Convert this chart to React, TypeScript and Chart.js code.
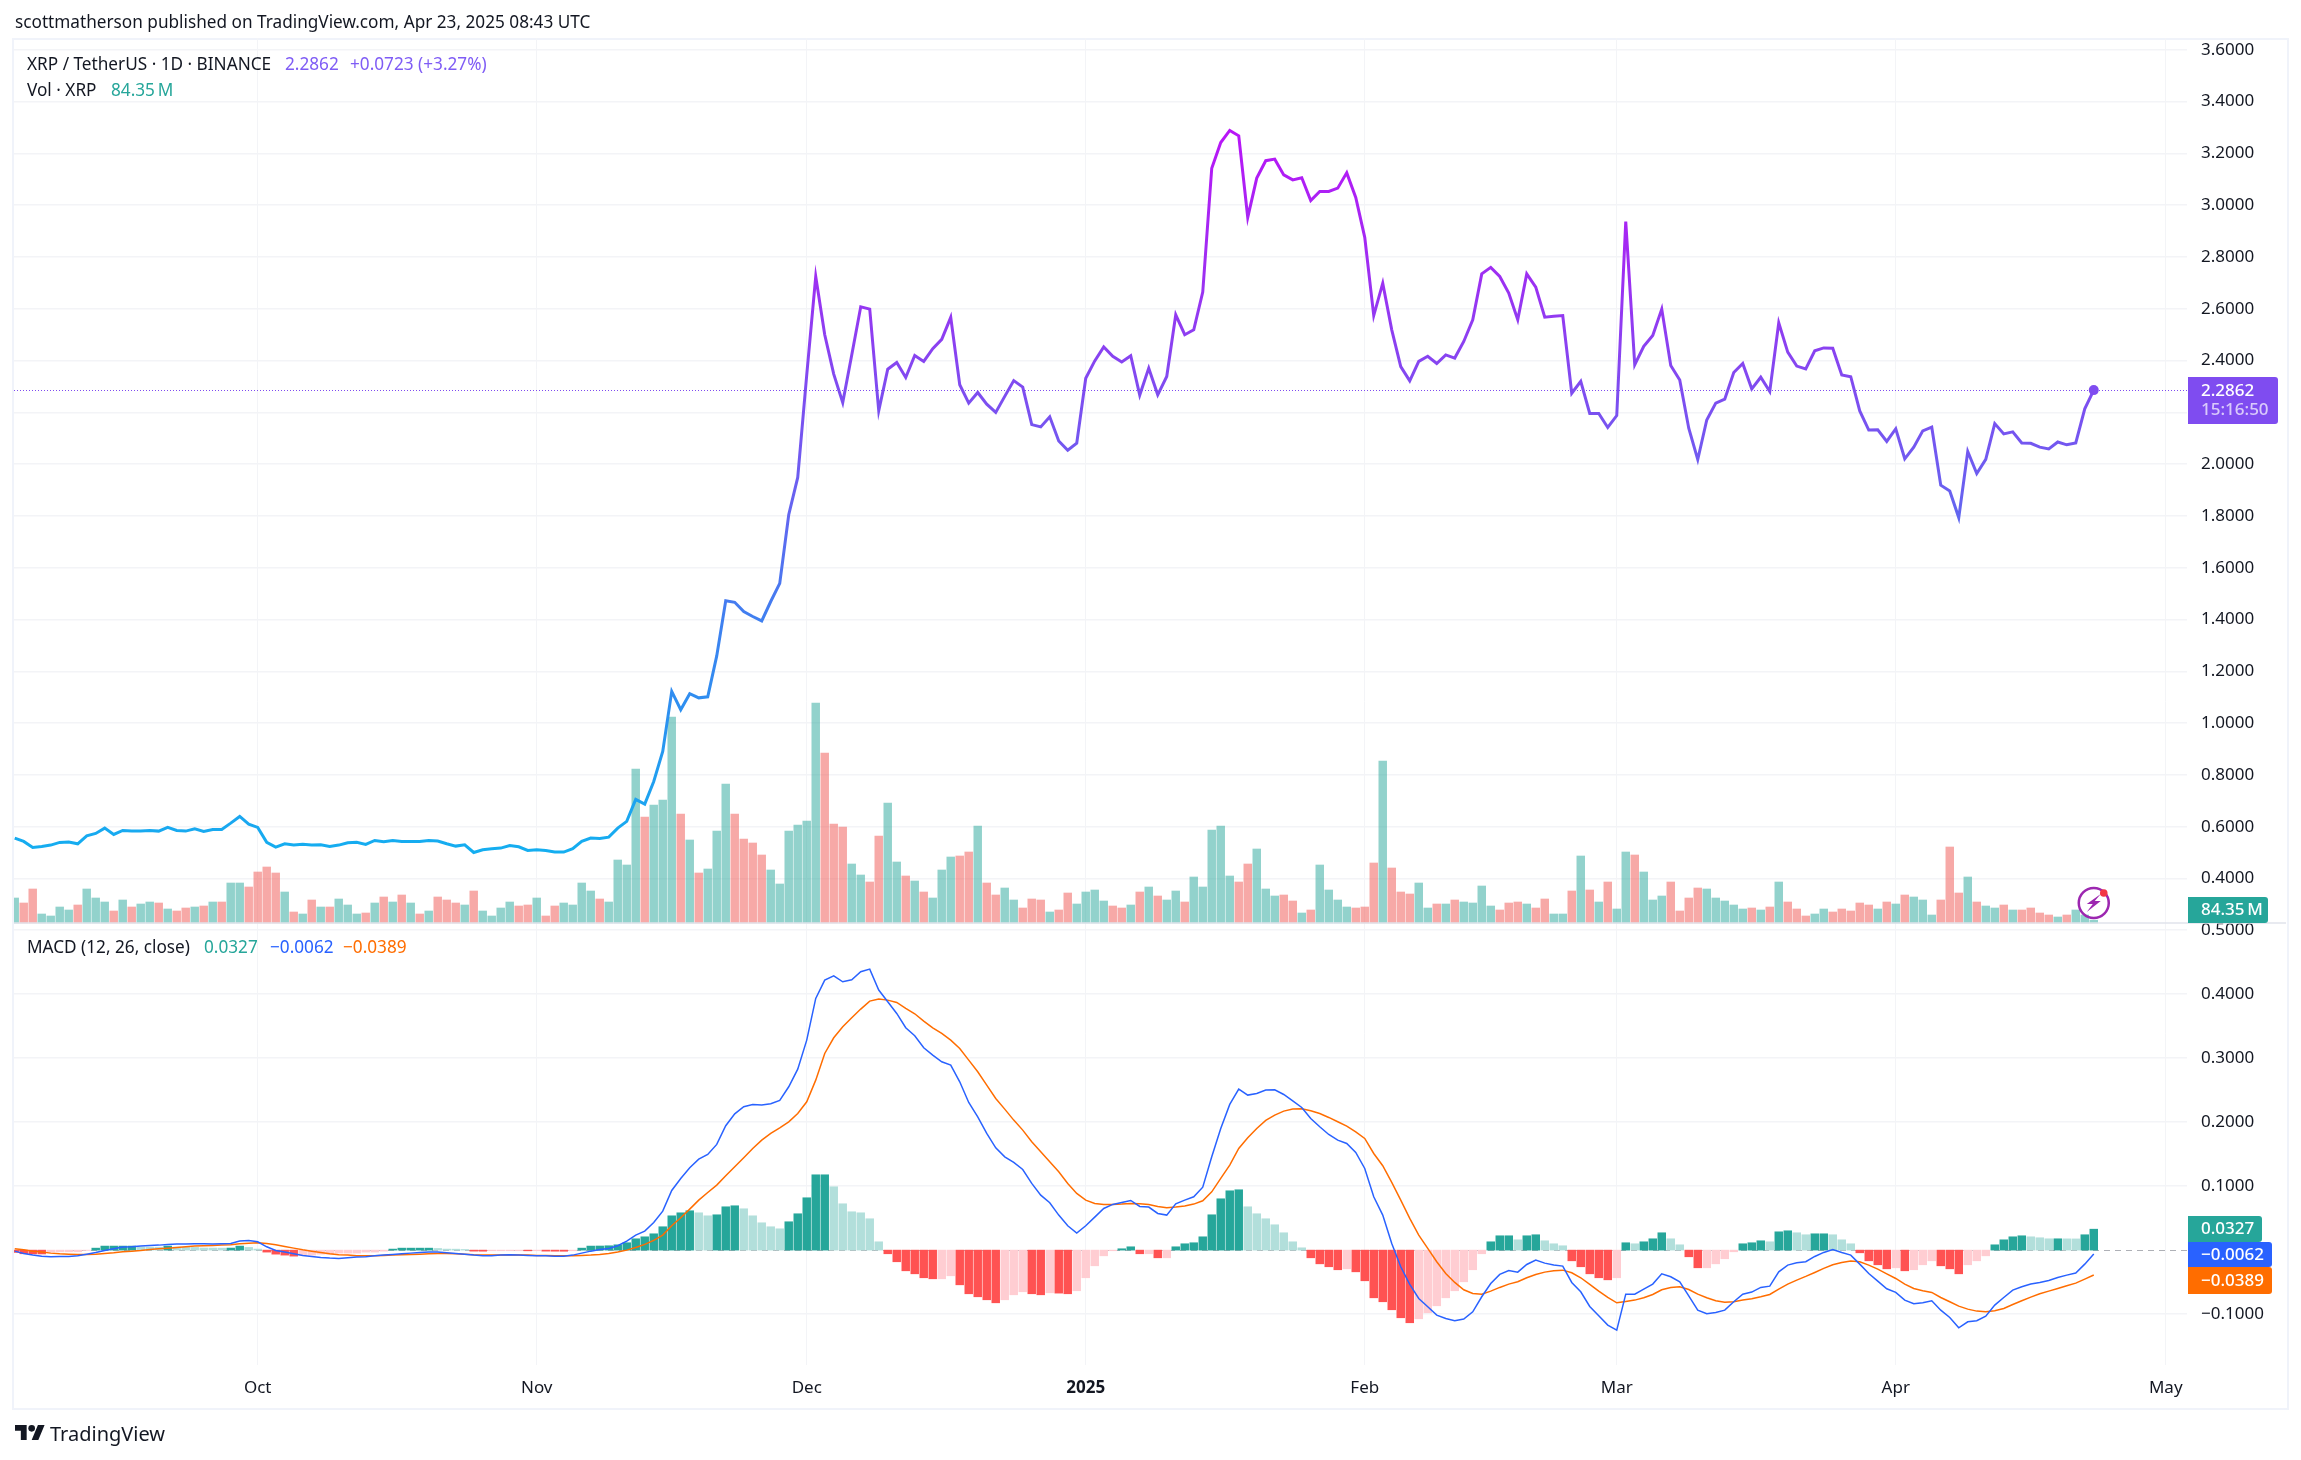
import React, { useEffect, useRef } from "react"
import { Chart, registerables } from "chart.js"

Chart.register(...registerables)

// one entry per day, Sep 4 2024 (index 0) to Apr 23 2025 (index 231)
const closes = [
  0.5565, 0.5436, 0.5205, 0.5243, 0.5295, 0.5398, 0.541, 0.5346, 0.5655, 0.5745,
  0.595, 0.5707, 0.586, 0.5835, 0.5835, 0.586, 0.5835, 0.5977, 0.586, 0.5835,
  0.5925, 0.582, 0.59, 0.59, 0.6144, 0.64, 0.6106, 0.5977, 0.54, 0.5218,
  0.5346, 0.5295, 0.533, 0.5295, 0.5308, 0.5243, 0.5295, 0.5385, 0.54, 0.532,
  0.5475, 0.5423, 0.5475, 0.5436, 0.5436, 0.5436, 0.5475, 0.545, 0.5346, 0.5256,
  0.5308, 0.501, 0.5115, 0.5153, 0.518, 0.528, 0.523, 0.5089, 0.5115, 0.5089,
  0.5025, 0.5025, 0.5153, 0.5436, 0.5565, 0.555, 0.5603, 0.595, 0.621, 0.706,
  0.688, 0.775, 0.891, 1.123, 1.052, 1.114, 1.098, 1.102, 1.26, 1.473,
  1.467, 1.431, 1.412, 1.395, 1.47, 1.54, 1.805, 1.949, 2.345, 2.725,
  2.5, 2.348, 2.238, 2.422, 2.608, 2.599, 2.206, 2.367, 2.393, 2.335,
  2.42, 2.397, 2.446, 2.482, 2.567, 2.307, 2.236, 2.277, 2.232, 2.2,
  2.262, 2.323, 2.298, 2.153, 2.144, 2.183, 2.09, 2.054, 2.081, 2.332,
  2.399, 2.453, 2.417, 2.395, 2.419, 2.267, 2.371, 2.268, 2.339, 2.577,
  2.5, 2.519, 2.665, 3.143, 3.242, 3.289, 3.268, 2.953, 3.105, 3.172,
  3.178, 3.117, 3.098, 3.106, 3.018, 3.053, 3.053, 3.066, 3.125, 3.03,
  2.876, 2.574, 2.699, 2.519, 2.377, 2.322, 2.397, 2.417, 2.389, 2.422,
  2.41, 2.474, 2.558, 2.735, 2.76, 2.725, 2.661, 2.558, 2.735, 2.684,
  2.568, 2.571, 2.574, 2.274, 2.32, 2.196, 2.196, 2.142, 2.188, 2.937,
  2.384, 2.455, 2.497, 2.599, 2.381, 2.325, 2.139, 2.018, 2.171, 2.236,
  2.251, 2.354, 2.389, 2.291, 2.336, 2.281, 2.546, 2.433, 2.379, 2.368,
  2.438, 2.449, 2.448, 2.345, 2.338, 2.206, 2.132, 2.133, 2.088, 2.137,
  2.021, 2.066, 2.129, 2.143, 1.919, 1.897, 1.794, 2.049, 1.964, 2.019,
  2.157, 2.117, 2.125, 2.082, 2.081, 2.066, 2.059, 2.086, 2.075, 2.082,
  2.214, 2.2862,
]

// millions of XRP
const volumes = [
  750, 600, 1020, 270, 210, 480, 390, 540, 1020, 750,
  630, 360, 690, 480, 570, 630, 600, 420, 360, 450,
  480, 510, 630, 630, 1200, 1200, 1080, 1530, 1680, 1500,
  930, 330, 270, 690, 480, 480, 720, 540, 270, 300,
  600, 780, 630, 840, 600, 270, 360, 780, 690, 600,
  540, 960, 360, 210, 450, 630, 510, 540, 750, 210,
  510, 600, 540, 1200, 960, 720, 630, 1890, 1740, 4620,
  3180, 3540, 3690, 6180, 3270, 2490, 1500, 1620, 2760, 4170,
  3270, 2520, 2400, 2040, 1590, 1170, 2760, 2940, 3060, 6600,
  5100, 2970, 2880, 1770, 1440, 1230, 2610, 3600, 1830, 1410,
  1260, 930, 750, 1590, 1980, 2010, 2130, 2910, 1200, 840,
  1050, 690, 450, 720, 690, 330, 390, 900, 570, 930,
  990, 660, 510, 450, 540, 930, 1080, 810, 690, 960,
  630, 1380, 1080, 2790, 2910, 1410, 1230, 1770, 2220, 1020,
  810, 840, 660, 300, 390, 1740, 990, 690, 480, 450,
  480, 1800, 4860, 1650, 930, 870, 1200, 450, 570, 570,
  690, 630, 600, 1110, 510, 390, 600, 630, 570, 450,
  720, 270, 270, 960, 2010, 990, 630, 1230, 420, 2130,
  2040, 1530, 690, 810, 1230, 360, 750, 1050, 1020, 750,
  660, 540, 420, 450, 390, 480, 1230, 630, 420, 210,
  270, 420, 330, 420, 360, 600, 540, 420, 630, 570,
  840, 780, 690, 240, 690, 2280, 900, 1380, 630, 510,
  450, 540, 390, 390, 450, 300, 240, 180, 240, 390,
  240, 84.35,
]

// G = up day, R = down day
const volumeSides = (
  "GRRGGGGRGG" + "GRGRGGRGRR" + "GRGRGGRRRR" + "GRGRGRGGGR" + "GRGRGRGRRR" +
  "GRGGGGRRGR" + "RGGGGRGGGG" + "RGGGRGRGGG" + "RRRRGGGGGG" + "RRRGGRRGGR" +
  "GRGGGRRGRR" + "GGRRRGRRGG" + "GGRRGRGRGG" + "RGGGGGRRGG" + "GRRGRGGGGR" +
  "RRGRRRGGRG" + "RGGGGRRRGR" + "RGGRGRGRGG" + "RGGGRRRRGG" + "GGGRGRGRRR" +
  "GGRRRRRGRG" + "RGGGRRRGRG" + "GRGRRRRGRG" + "GG"
).split("")

const macdLine = [
  -0.0016, -0.0052, -0.0078, -0.0094, -0.0104, -0.0099, -0.0099, -0.0089, -0.0063, -0.0036,
  -0.0005, 0.0021, 0.0047, 0.0052, 0.0063, 0.0073, 0.0078, 0.0089, 0.0094, 0.0094,
  0.0099, 0.0099, 0.0094, 0.0099, 0.0104, 0.0141, 0.0151, 0.013, 0.0052, -0.0005,
  -0.0031, -0.0057, -0.0083, -0.0099, -0.0115, -0.0125, -0.013, -0.012, -0.0109, -0.0104,
  -0.0089, -0.0078, -0.0068, -0.0057, -0.0047, -0.0036, -0.0031, -0.0031, -0.0042, -0.0052,
  -0.0063, -0.0078, -0.0089, -0.0089, -0.0078, -0.0073, -0.0078, -0.0083, -0.0089, -0.0089,
  -0.0094, -0.0094, -0.0078, -0.0047, -0.0016, 0.001, 0.0026, 0.0068, 0.0141, 0.0234,
  0.0297, 0.0432, 0.0609, 0.0932, 0.112, 0.1286, 0.1422, 0.1495, 0.1651, 0.1943,
  0.213, 0.224, 0.2276, 0.2266, 0.2286, 0.2339, 0.2552, 0.2828, 0.3281, 0.3932,
  0.4219, 0.4286, 0.4193, 0.4224, 0.4349, 0.4391, 0.4063, 0.388, 0.3698, 0.3474,
  0.3349, 0.3161, 0.3047, 0.2943, 0.2891, 0.263, 0.2307, 0.2083, 0.1823, 0.1599,
  0.1458, 0.137, 0.126, 0.1042, 0.0859, 0.074, 0.0547, 0.038, 0.0266, 0.038,
  0.0516, 0.0651, 0.0714, 0.0745, 0.0776, 0.0682, 0.0672, 0.0573, 0.0547, 0.0724,
  0.0781, 0.0833, 0.0984, 0.1458, 0.1901, 0.2276, 0.2516, 0.2422, 0.2448, 0.25,
  0.2505, 0.2432, 0.2333, 0.2229, 0.2057, 0.1927, 0.1807, 0.1719, 0.1667, 0.1526,
  0.1276, 0.0833, 0.0547, 0.0104, -0.026, -0.0536, -0.0755, -0.0885, -0.1016, -0.1068,
  -0.1104, -0.1078, -0.0964, -0.0729, -0.0521, -0.038, -0.0318, -0.0344, -0.0224, -0.0156,
  -0.0203, -0.0234, -0.025, -0.0505, -0.0651, -0.088, -0.1026, -0.1172, -0.125, -0.0688,
  -0.0688, -0.0609, -0.0531, -0.037, -0.0417, -0.0495, -0.0714, -0.0938, -0.0995, -0.0974,
  -0.0938, -0.0807, -0.0688, -0.0656, -0.0583, -0.0563, -0.0339, -0.0234, -0.0198, -0.0182,
  -0.0099, -0.0036, 0.001, -0.0036, -0.0078, -0.0219, -0.0365, -0.0484, -0.0604, -0.0661,
  -0.0781, -0.0839, -0.0823, -0.0792, -0.0938, -0.1052, -0.1214, -0.112, -0.1104, -0.1031,
  -0.0859, -0.074, -0.0625, -0.0573, -0.0531, -0.0505, -0.0474, -0.0427, -0.0391, -0.0359,
  -0.0219, -0.0062,
]

const signalLine = [
  0.0021, 0.0005, -0.0016, -0.0031, -0.0047, -0.0057, -0.0063, -0.0068, -0.0068, -0.0063,
  -0.0052, -0.0042, -0.0026, -0.0016, -0.0005, 0.001, 0.0021, 0.0031, 0.0042, 0.0052,
  0.0063, 0.0068, 0.0073, 0.0078, 0.0083, 0.0099, 0.0109, 0.0115, 0.0104, 0.0083,
  0.0057, 0.0031, 0.0005, -0.0016, -0.0036, -0.0057, -0.0073, -0.0078, -0.0089, -0.0089,
  -0.0089, -0.0083, -0.0078, -0.0073, -0.0068, -0.0063, -0.0057, -0.0052, -0.0052, -0.0057,
  -0.0063, -0.0073, -0.0078, -0.0078, -0.0078, -0.0078, -0.0078, -0.0078, -0.0083, -0.0083,
  -0.0089, -0.0089, -0.0089, -0.0083, -0.0078, -0.0068, -0.0052, -0.0031, 0, 0.0042,
  0.0089, 0.0151, 0.0234, 0.038, 0.0505, 0.0641, 0.0781, 0.0901, 0.1016, 0.1161,
  0.1302, 0.1443, 0.1589, 0.1719, 0.1823, 0.1911, 0.2005, 0.2135, 0.2318, 0.2656,
  0.3073, 0.3318, 0.349, 0.363, 0.3766, 0.3891, 0.3922, 0.3906, 0.387, 0.3776,
  0.3693, 0.3578, 0.3474, 0.3385, 0.3281, 0.3151, 0.2969, 0.2786, 0.2578, 0.237,
  0.2203, 0.2031, 0.1875, 0.1693, 0.1536, 0.138, 0.1224, 0.1042, 0.0885, 0.0781,
  0.0729, 0.0714, 0.0714, 0.0719, 0.0729, 0.0724, 0.0714, 0.0682, 0.0661, 0.0672,
  0.0688, 0.0719, 0.0771, 0.0911, 0.112, 0.1328, 0.1589, 0.1755, 0.1901, 0.2026,
  0.2109, 0.2172, 0.2203, 0.2208, 0.2177, 0.2135, 0.2073, 0.2005, 0.1938, 0.1849,
  0.1745, 0.151, 0.1318, 0.1057, 0.0781, 0.0495, 0.0234, 0.0026, -0.0182, -0.0365,
  -0.0505, -0.062, -0.0677, -0.0688, -0.0641, -0.0583, -0.0531, -0.0495, -0.0432, -0.038,
  -0.0344, -0.0323, -0.0313, -0.0354, -0.0432, -0.0536, -0.0641, -0.074, -0.0823, -0.0802,
  -0.0781, -0.0745, -0.0693, -0.062, -0.0583, -0.0573, -0.0615, -0.0688, -0.0745, -0.0792,
  -0.0813, -0.0807, -0.0781, -0.076, -0.0729, -0.0693, -0.0609, -0.0531, -0.0469, -0.0411,
  -0.0349, -0.0286, -0.0229, -0.0193, -0.0172, -0.0182, -0.0234, -0.0297, -0.037, -0.0443,
  -0.0531, -0.0599, -0.0635, -0.0661, -0.074, -0.0807, -0.0875, -0.0922, -0.0953, -0.0964,
  -0.0948, -0.0911, -0.0849, -0.0792, -0.0734, -0.0682, -0.0641, -0.0599, -0.0557, -0.0516,
  -0.0453, -0.0389,
]

const histogram = [
  -0.0036, -0.0057, -0.0059, -0.006, -0.0031, -0.0026, -0.0026, -0.0026, -0.0005, 0.0031,
  0.0063, 0.0063, 0.0063, 0.0063, 0.0047, 0.0046, 0.0045, 0.0063, 0.0047, 0.0046,
  0.0042, 0.0033, 0.0032, 0.0031, 0.0032, 0.0063, 0.0042, 0.0016, -0.0031, -0.0063,
  -0.0078, -0.0094, -0.0078, -0.0078, -0.0063, -0.0063, -0.0047, -0.0047, -0.0047, -0.0031,
  -0.0031, -0.0016, 0.0016, 0.0031, 0.0031, 0.0031, 0.0031, 0.0026, 0.0016, 0.0015,
  0.001, -0.0016, -0.0017, -0.001, -0.001, -0.001, -0.001, -0.0011, -0.001, -0.0016,
  -0.0017, -0.0018, -0.001, 0.0031, 0.0063, 0.0064, 0.0068, 0.0083, 0.0115, 0.0177,
  0.0208, 0.0255, 0.0365, 0.0536, 0.0583, 0.0615, 0.0583, 0.0536, 0.0552, 0.0677,
  0.0693, 0.0646, 0.0536, 0.0427, 0.0365, 0.0333, 0.0443, 0.0568, 0.0818, 0.1177,
  0.1177, 0.099, 0.0724, 0.0599, 0.0583, 0.049, 0.013, -0.0057, -0.0182, -0.0323,
  -0.037, -0.0432, -0.0448, -0.0448, -0.0401, -0.0542, -0.0682, -0.0729, -0.0776, -0.0823,
  -0.0776, -0.0698, -0.0651, -0.0682, -0.0698, -0.0667, -0.0672, -0.0682, -0.0635, -0.0432,
  -0.0245, -0.0089, -0.001, 0.0021, 0.0052, -0.0057, -0.0057, -0.012, -0.012, 0.0052,
  0.0099, 0.0115, 0.0208, 0.0552, 0.0802, 0.0927, 0.0943, 0.0677, 0.0568, 0.049,
  0.0396, 0.0271, 0.013, 0.0036, -0.012, -0.0214, -0.026, -0.0307, -0.0292, -0.0339,
  -0.0479, -0.0745, -0.0807, -0.0932, -0.1057, -0.1135, -0.1073, -0.0979, -0.087, -0.0745,
  -0.0635, -0.0495, -0.0307, -0.0057, 0.013, 0.0224, 0.0224, 0.0161, 0.0224, 0.024,
  0.0146, 0.0099, 0.0068, -0.0167, -0.026, -0.037, -0.0432, -0.0464, -0.0432, 0.0115,
  0.0099, 0.013, 0.0177, 0.0271, 0.0177, 0.0083, -0.0104, -0.0276, -0.0276, -0.0214,
  -0.0135, -0.0026, 0.0099, 0.0115, 0.0146, 0.013, 0.0286, 0.0302, 0.0271, 0.024,
  0.0255, 0.0255, 0.024, 0.0161, 0.0099, -0.0042, -0.0167, -0.0229, -0.0292, -0.0276,
  -0.0323, -0.0307, -0.0229, -0.0167, -0.0245, -0.0292, -0.037, -0.0229, -0.0167, -0.0089,
  0.0083, 0.0161, 0.0208, 0.0224, 0.0208, 0.0193, 0.0177, 0.0177, 0.0176, 0.0175,
  0.024, 0.0327,
]

const priceTicks = [0.4, 0.6, 0.8, 1.0, 1.2, 1.4, 1.6, 1.8, 2.0, 2.2, 2.4, 2.6, 2.8, 3.0, 3.2, 3.4, 3.6]
const macdTicks = [-0.1, 0.1, 0.2, 0.3, 0.4, 0.5]
const monthIndex = [27, 58, 88, 119, 150, 178, 209, 239]
const monthLabels = ["Oct", "Nov", "Dec", "2025", "Feb", "Mar", "Apr", "May"]

const FONT = '"Noto Sans", sans-serif'
const TEXT = "#131722"
const GRID = "#f3f4f7"
const PURPLE = "#7f4cf0"
const TEAL = "#26a69a"
const BLUE = "#2962ff"
const ORANGE = "#ff6d00"

const days = closes.map((_, i) => i)
const toPoints = (values: number[]) => days.map((i) => ({ x: i, y: values[i] }))
const fmt = (v: number) => (v < 0 ? "\u2212" : "") + Math.abs(v).toFixed(4)

function histColor(i: number) {
  const v = histogram[i]
  const rising = i > 0 && v >= histogram[i - 1]
  if (v >= 0) return rising ? "#26a69a" : "#b2dfdb"
  return rising ? "#ffcdd2" : "#ff5252"
}

function priceGradient(context: any) {
  const { chart } = context
  const s = chart.scales.price
  if (!s || !chart.chartArea) return PURPLE
  const g = chart.ctx.createLinearGradient(0, s.getPixelForValue(3.3), 0, s.getPixelForValue(0.5))
  g.addColorStop(0, "#b915f7")
  g.addColorStop(0.2, "#9e2ef2")
  g.addColorStop(0.36, "#7f4cf0")
  g.addColorStop(0.5, "#6a60f0")
  g.addColorStop(0.68, "#3f80f0")
  g.addColorStop(0.82, "#2b92f0")
  g.addColorStop(1, "#14aef0")
  return g
}

function drawTag(ctx: CanvasRenderingContext2D, left: number, right: number, top: number, bottom: number, color: string) {
  ctx.fillStyle = color
  ctx.beginPath()
  ctx.roundRect(left, top, right - left, bottom - top, [0, 3, 3, 0])
  ctx.fill()
}

const panePlugin = {
  id: "panes",
  beforeDatasetsDraw(chart: any) {
    const { ctx, chartArea, scales } = chart
    const last = closes.length - 1
    ctx.save()
    // zero line of the MACD pane
    const zero = Math.round(scales.macd.getPixelForValue(0)) + 0.5
    ctx.strokeStyle = "rgba(120,123,134,0.6)"
    ctx.lineWidth = 1
    ctx.setLineDash([6, 5])
    ctx.beginPath()
    ctx.moveTo(chartArea.left, zero)
    ctx.lineTo(chartArea.right, zero)
    ctx.stroke()
    // last price line
    const py = Math.round(scales.price.getPixelForValue(closes[last])) + 0.5
    ctx.strokeStyle = PURPLE
    ctx.setLineDash([1, 2])
    ctx.beginPath()
    ctx.moveTo(chartArea.left, py)
    ctx.lineTo(chartArea.right, py)
    ctx.stroke()
    ctx.restore()
  },
  afterDraw(chart: any) {
    const { ctx, chartArea, scales } = chart
    const last = closes.length - 1
    const paneEdge = scales.price.bottom
    const left = chartArea.right + 1
    const textX = left + 13
    ctx.save()

    // pane separator
    ctx.strokeStyle = "#e0e3eb"
    ctx.lineWidth = 1.5
    ctx.beginPath()
    ctx.moveTo(chartArea.left, paneEdge)
    ctx.lineTo(scales.price.right, paneEdge)
    ctx.stroke()

    // price tag with countdown
    const py = scales.price.getPixelForValue(closes[last])
    drawTag(ctx, left, left + 90, py - 13, py + 34, PURPLE)
    ctx.textAlign = "left"
    ctx.textBaseline = "middle"
    ctx.font = `500 17px ${FONT}`
    ctx.fillStyle = "#ffffff"
    ctx.fillText(closes[last].toFixed(4), textX, py + 1)
    ctx.fillStyle = "rgba(255,255,255,0.7)"
    ctx.fillText("15:16:50", textX, py + 20)

    // volume tag sits on the pane edge
    drawTag(ctx, left, left + 80, paneEdge - 26, paneEdge, TEAL)
    ctx.fillStyle = "#ffffff"
    ctx.fillText("84.35\u2009M", textX, paneEdge - 12.5)

    // MACD tags, pushed apart so they do not overlap
    const zero = scales.macd.getPixelForValue(0)
    const tags: [string, string, number, number, number][] = [
      [fmt(histogram[last]), TEAL, 74, zero - 34, zero - 8],
      [fmt(macdLine[last]), BLUE, 84, zero - 8, zero + 17],
      [fmt(signalLine[last]), ORANGE, 84, zero + 17, zero + 44],
    ]
    for (const [text, color, w, top, bottom] of tags) {
      drawTag(ctx, left, left + w, top, bottom, color)
      ctx.fillStyle = "#ffffff"
      ctx.fillText(text, textX, (top + bottom) / 2 + 0.5)
    }

    // lightning badge over the last bar
    const bx = scales.x.getPixelForValue(last)
    const by = paneEdge - 20
    ctx.strokeStyle = "#9c27b0"
    ctx.lineWidth = 2.5
    ctx.beginPath()
    ctx.arc(bx, by, 15, 0, Math.PI * 2)
    ctx.stroke()
    ctx.fillStyle = "#9c27b0"
    ctx.beginPath()
    ctx.moveTo(bx + 7, by - 9)
    ctx.lineTo(bx - 7, by + 1)
    ctx.lineTo(bx - 1, by + 1)
    ctx.lineTo(bx - 7, by + 9)
    ctx.lineTo(bx + 7, by - 2)
    ctx.lineTo(bx + 1, by - 2)
    ctx.closePath()
    ctx.fill()
    ctx.fillStyle = "#f23645"
    ctx.beginPath()
    ctx.arc(bx + 10, by - 10, 3.8, 0, Math.PI * 2)
    ctx.fill()
    ctx.restore()
  },
}

const textStyle: React.CSSProperties = {
  position: "absolute",
  fontFamily: FONT,
  fontSize: 17,
  lineHeight: "20px",
  color: TEXT,
  whiteSpace: "nowrap",
}

function Label({ x, y, color, size, children }: { x: number; y: number; color?: string; size?: number; children: React.ReactNode }) {
  return (
    <div style={{ ...textStyle, left: x, top: y - 10, color: color ?? TEXT, fontSize: size ?? 17.2 }}>
      {children}
    </div>
  )
}

export default function App() {
  const canvasRef = useRef<HTMLCanvasElement>(null)

  useEffect(() => {
    document.body.style.margin = "0"
    document.body.style.background = "#ffffff"
    if (!canvasRef.current) return

    const chart = new Chart(canvasRef.current, {
      data: {
        datasets: [
          {
            type: "line",
            data: toPoints(closes),
            yAxisID: "price",
            borderColor: priceGradient,
            borderWidth: 3,
            tension: 0,
            order: 1,
            pointRadius: (c: any) => (c.dataIndex === closes.length - 1 ? 5 : 0),
            pointBackgroundColor: PURPLE,
            pointBorderWidth: 0,
            clip: false,
          },
          {
            type: "line",
            data: toPoints(macdLine),
            yAxisID: "macd",
            borderColor: BLUE,
            borderWidth: 1.5,
            tension: 0,
            order: 1,
            pointRadius: 0,
          },
          {
            type: "line",
            data: toPoints(signalLine),
            yAxisID: "macd",
            borderColor: ORANGE,
            borderWidth: 1.5,
            tension: 0,
            order: 1,
            pointRadius: 0,
          },
          {
            type: "bar",
            data: toPoints(volumes),
            yAxisID: "volume",
            backgroundColor: days.map((i) =>
              volumeSides[i] === "G" ? "rgba(38,166,154,0.5)" : "rgba(239,83,80,0.5)",
            ),
            barThickness: 7.8,
            grouped: false,
            order: 3,
          },
          {
            type: "bar",
            data: toPoints(histogram),
            yAxisID: "macd",
            backgroundColor: days.map(histColor),
            barThickness: 7.8,
            grouped: false,
            order: 2,
          },
        ],
      },
      options: {
        responsive: false,
        animation: false,
        events: [],
        layout: { padding: { left: 14, top: 38, right: 15, bottom: 53 } },
        plugins: { legend: { display: false }, tooltip: { enabled: false } },
        scales: {
          x: {
            type: "linear",
            position: "bottom",
            offset: false,
            min: -0.08,
            max: 241.36,
            border: { display: false },
            grid: { color: GRID, lineWidth: 1, drawTicks: false, offset: false },
            afterFit: (s: any) => {
              s.height = 42
            },
            afterBuildTicks: (s: any) => {
              s.ticks = monthIndex.map((value) => ({ value }))
            },
            ticks: {
              autoSkip: false,
              maxRotation: 0,
              padding: 13,
              color: TEXT,
              font: (c: any) => ({
                family: FONT,
                size: 17,
                weight: c.tick && c.tick.value === 119 ? "bold" : "normal",
              }),
              callback: (v: any) => monthLabels[monthIndex.indexOf(v)],
            },
          },
          price: {
            type: "linear",
            position: "right",
            stack: "panes",
            stackWeight: 885,
            min: 0.2287,
            max: 3.6457,
            border: { display: false },
            grid: { color: GRID, lineWidth: 1.5, drawTicks: false },
            afterFit: (s: any) => {
              s.width = 99
            },
            afterBuildTicks: (s: any) => {
              s.ticks = priceTicks.map((value) => ({ value }))
            },
            ticks: {
              padding: 14,
              color: TEXT,
              font: { family: FONT, size: 17 },
              callback: (v: any) => fmt(v),
            },
          },
          macd: {
            type: "linear",
            position: "right",
            stack: "panes",
            stackWeight: 442,
            min: -0.1795,
            max: 0.5111,
            border: { display: false },
            grid: { color: GRID, lineWidth: 1.5, drawTicks: false },
            afterFit: (s: any) => {
              s.width = 99
            },
            afterBuildTicks: (s: any) => {
              s.ticks = macdTicks.map((value) => ({ value }))
            },
            ticks: {
              padding: 14,
              color: TEXT,
              font: { family: FONT, size: 17 },
              callback: (v: any) => fmt(v),
            },
          },
          // hidden and spanning both panes; zero falls on the pane edge
          volume: {
            type: "linear",
            display: false,
            position: "left",
            min: -13260,
            max: 26550,
          },
        },
      },
      plugins: [panePlugin],
    } as any)

    return () => chart.destroy()
  }, [])

  return (
    <div style={{ position: "absolute", left: 0, top: 0, width: 2301, height: 1460, background: "#fff", overflow: "hidden" }}>
      <div style={{ position: "absolute", left: 12, top: 38, width: 2273, height: 1368, border: "2px solid #f0f3fa" }} />
      <canvas ref={canvasRef} width={2301} height={1460} style={{ position: "absolute", left: 0, top: 0, width: 2301, height: 1460 }} />

      <Label x={15} y={22}>scottmatherson published on TradingView.com, Apr 23, 2025 08:43 UTC</Label>

      <Label x={27} y={64}>XRP / TetherUS · 1D · BINANCE</Label>
      <Label x={285} y={64} color="#7f5cf5">2.2862</Label>
      <Label x={350} y={64} color="#7f5cf5">+0.0723 (+3.27%)</Label>
      <Label x={27} y={90}>Vol · XRP</Label>
      <Label x={111} y={90} color={TEAL}>84.35{"\u2009"}M</Label>

      <Label x={27} y={947}>MACD (12, 26, close)</Label>
      <Label x={204} y={947} color={TEAL}>0.0327</Label>
      <Label x={270} y={947} color={BLUE}>−0.0062</Label>
      <Label x={343} y={947} color={ORANGE}>−0.0389</Label>

      <svg viewBox="0 4 36 18" style={{ position: "absolute", left: 15, top: 1425, width: 30, height: 15 }}>
        <path d="M14 22H7V11H0V4h14v18zM28 22h-8l7.5-18h8L28 22z" fill="#131722" />
        <circle cx="20" cy="8" r="4" fill="#131722" />
      </svg>
      <Label x={50} y={1434} size={20}>TradingView</Label>
    </div>
  )
}
